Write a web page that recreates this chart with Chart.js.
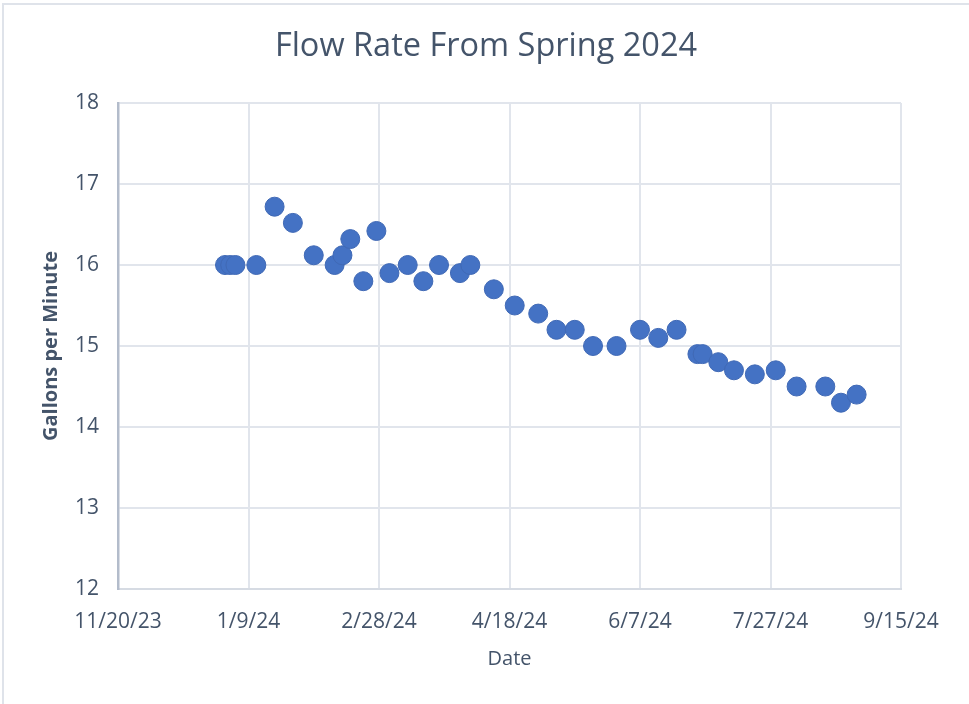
<!DOCTYPE html>
<html>
<head>
<meta charset="utf-8">
<script src="https://cdn.jsdelivr.net/npm/chart.js@4/dist/chart.umd.min.js"></script>
<style>
  html, body { margin: 0; padding: 0; background: #ffffff; }
  #wrap { position: relative; width: 969px; height: 704px; overflow: hidden; }
  #frame { position: absolute; left: 2px; top: 3px; width: 980px; height: 720px;
           border-left: 2px solid #dfe3ea; border-top: 2px solid #dfe3ea; box-sizing: border-box; }
  canvas { position: absolute; left: 0; top: 0; }
</style>
</head>
<body>
<div id="wrap">
  <canvas id="c" width="969" height="704"></canvas>
  <div id="frame"></div>
</div>
<script>
// ---- data ----
const axisStart = '2023-11-20';
const dates = [
  '2023-12-31', '2024-01-02', '2024-01-04', '2024-01-12', '2024-01-19', '2024-01-26',
  '2024-02-03', '2024-02-11', '2024-02-14', '2024-02-17', '2024-02-22', '2024-02-27',
  '2024-03-03', '2024-03-10', '2024-03-16', '2024-03-22', '2024-03-30', '2024-04-03',
  '2024-04-12', '2024-04-20', '2024-04-29', '2024-05-06', '2024-05-13', '2024-05-20',
  '2024-05-29', '2024-06-07', '2024-06-14', '2024-06-21', '2024-06-29', '2024-07-01',
  '2024-07-07', '2024-07-13', '2024-07-21', '2024-07-29', '2024-08-06', '2024-08-17',
  '2024-08-23', '2024-08-29'
];
const flowGpm = [
  16.0, 16.0, 16.0, 16.0, 16.72, 16.52,
  16.12, 16.0, 16.12, 16.32, 15.8, 16.42,
  15.9, 16.0, 15.8, 16.0, 15.9, 16.0,
  15.7, 15.5, 15.4, 15.2, 15.2, 15.0,
  15.0, 15.2, 15.1, 15.2, 14.9, 14.9,
  14.8, 14.7, 14.65, 14.7, 14.5, 14.5,
  14.3, 14.4
];
const xTickLabels = ['11/20/23', '1/9/24', '2/28/24', '4/18/24', '6/7/24', '7/27/24', '9/15/24'];
const xTickStepDays = 50;
const yMin = 12, yMax = 18;
const chartTitle = 'Flow Rate From Spring 2024';
const xTitle = 'Date';
const yTitle = 'Gallons per Minute';

// ---- build ----
function dayNum(s) {
  const [y, m, d] = s.split('-').map(Number);
  return Date.UTC(y, m - 1, d) / 86400000;
}
const base = dayNum(axisStart);
const points = dates.map((d, i) => ({ x: dayNum(d) - base, y: flowGpm[i] }));

const textColor = '#44546a';
const FONT = "'Open Sans', 'DejaVu Sans', sans-serif";

new Chart(document.getElementById('c'), {
  type: 'scatter',
  data: {
    datasets: [{
      data: points,
      pointRadius: 9.5,
      pointHoverRadius: 9.5,
      pointBackgroundColor: '#4472c4',
      pointBorderColor: '#4069b5',
      pointBorderWidth: 1
    }]
  },
  options: {
    responsive: false,
    animation: false,
    events: [],
    layout: { padding: { left: 3, right: 0, top: 0, bottom: 0 } },
    plugins: {
      legend: { display: false },
      tooltip: { enabled: false },
      title: {
        display: true,
        text: chartTitle,
        color: textColor,
        font: { family: FONT, size: 32.5, weight: 'normal' },
        padding: { top: 27, bottom: 37 }
      }
    },
    scales: {
      x: {
        type: 'linear',
        min: 0,
        max: xTickStepDays * (xTickLabels.length - 1),
        afterBuildTicks: (scale) => {
          scale.ticks = xTickLabels.map((_, i) => ({ value: i * xTickStepDays }));
        },
        afterFit: (scale) => { scale.height = 115; scale.paddingRight = 68; },
        ticks: {
          color: textColor,
          font: { family: FONT, size: 21 },
          padding: 20,
          maxRotation: 0,
          autoSkip: false,
          callback: (v) => xTickLabels[Math.round(v / xTickStepDays)]
        },
        grid: { color: '#e1e5ec', lineWidth: 2, drawTicks: false },
        border: { color: '#d6dbe3', width: 2 },
        title: {
          display: true,
          text: xTitle,
          color: textColor,
          font: { family: FONT, size: 20 },
          padding: { top: 0, bottom: 33 }
        }
      },
      y: {
        min: yMin,
        max: yMax,
        afterFit: (scale) => { scale.width = 115; },
        ticks: {
          stepSize: 1,
          color: textColor,
          font: { family: FONT, size: 21 },
          padding: 19
        },
        grid: { color: '#e1e5ec', lineWidth: 2, drawTicks: false },
        border: { color: '#b3bccb', width: 2.5 },
        title: {
          display: true,
          text: yTitle,
          color: textColor,
          font: { family: FONT, size: 20, weight: 'bold' },
          padding: { top: 36, bottom: 0 }
        }
      }
    }
  }
});
</script>
</body>
</html>
